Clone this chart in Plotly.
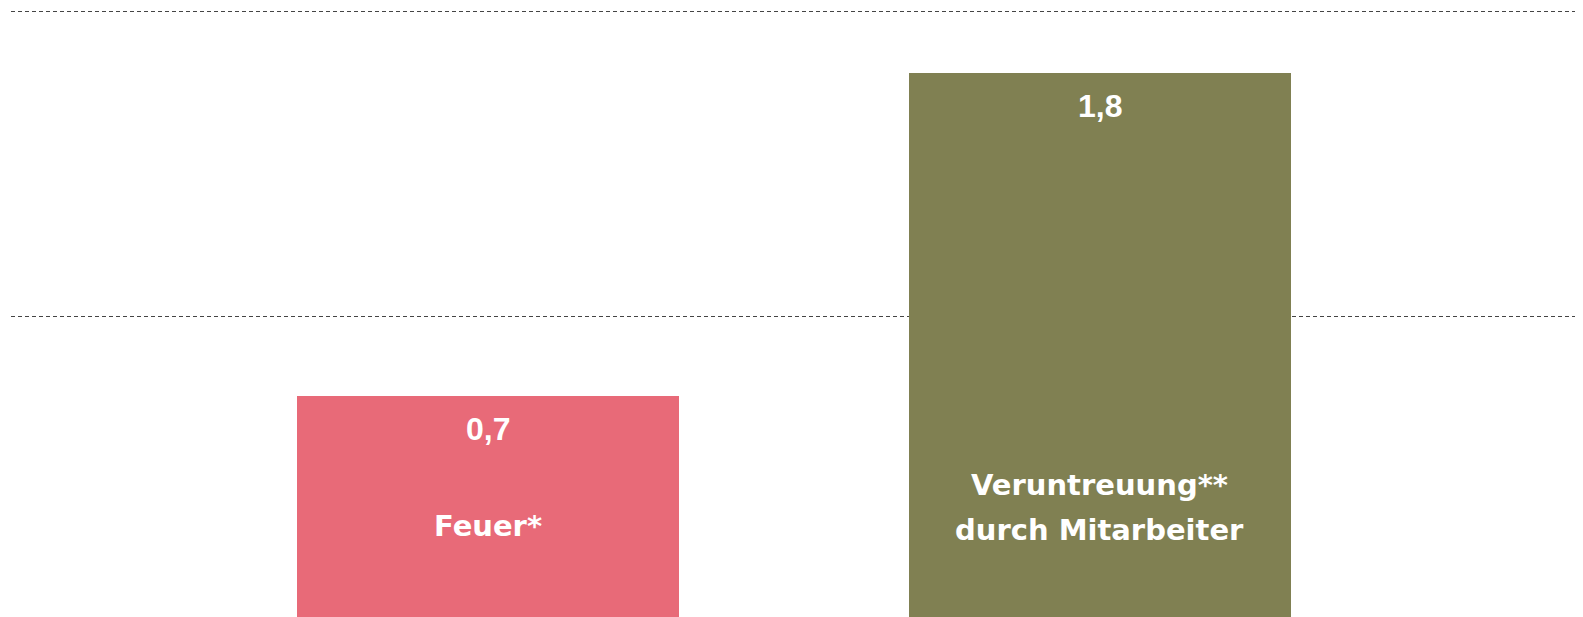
import plotly.graph_objects as go

categories = ["Feuer*", "Veruntreuung**<br>durch Mitarbeiter"]
values = [0.74, 1.8]
value_labels = ["0,7", "1,8"]
colors = ["#E86A78", "#808052"]
grid_vals = [1, 2]

VAL_FONT = "Liberation Sans, Arial, sans-serif"
CAT_FONT = "DejaVu Sans, sans-serif"

fig = go.Figure()
fig.add_trace(go.Bar(
    x=[0, 1], y=values,
    marker=dict(color=colors, line=dict(width=0)),
    width=0.625,
    hoverinfo="skip",
))

annotations = []
for i, (v, lab) in enumerate(zip(values, value_labels)):
    annotations.append(dict(
        x=i, y=v, xref="x", yref="y", text="<b>%s</b>" % lab,
        showarrow=False, yanchor="top", yshift=-13,
        font=dict(family=VAL_FONT, size=32, color="white"),
    ))
cat_y = [0.2525, 0.239]
line_gap = 45
for i, c in enumerate(categories):
    lines = c.split("<br>")
    n = len(lines)
    for k, ln in enumerate(lines):
        annotations.append(dict(
            x=i, y=cat_y[i], xref="x", yref="y", text="<b>%s</b>" % ln,
            showarrow=False, yanchor="bottom", yshift=line_gap * (n - 1 - k),
            font=dict(family=CAT_FONT, size=29, color="white"),
        ))

fig.update_layout(
    width=1583, height=617,
    margin=dict(l=11, r=8, t=0, b=0),
    paper_bgcolor="white", plot_bgcolor="white",
    showlegend=False,
    bargap=0,
    annotations=annotations,
    xaxis=dict(range=[-0.781, 1.778], showgrid=False, zeroline=False,
               showline=False, showticklabels=False, fixedrange=True),
    yaxis=dict(range=[0.0164, 2.039], tickvals=grid_vals, showgrid=True,
               gridcolor="#444444", gridwidth=1, griddash="4px,3px",
               zeroline=False, showline=False, showticklabels=False,
               fixedrange=True),
)

fig.write_html("out.html", config={"displayModeBar": False},
               post_script="document.body.style.margin='0';")
